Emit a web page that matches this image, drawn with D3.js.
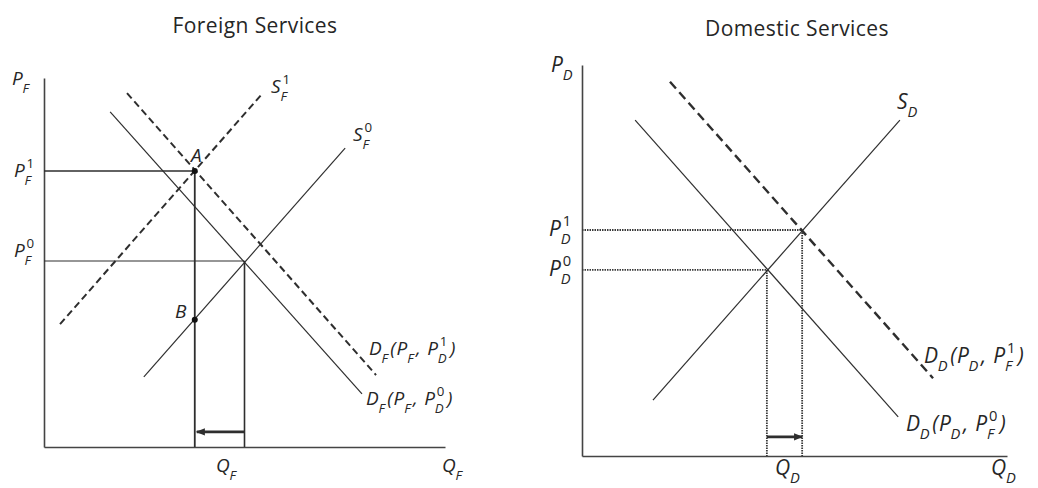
<!DOCTYPE html>
<html>
<head>
<meta charset="utf-8">
<script src="https://cdn.jsdelivr.net/npm/d3@7"></script>
<style>
body { margin: 0; background: #fff; }
text { font-family: "Open Sans", "Noto Sans", sans-serif; fill: #262626; }
</style>
</head>
<body>
<div id="chart"></div>
<script>
// panel titles
var panelTitles = ["Foreign Services", "Domestic Services"];

// foreign services panel (quantity, price) in abstract 0-10 units
var fSupply1 = [[0.4, 3.33], [5.44, 9.57]];   // dashed, shifted supply
var fSupply0 = [[2.49, 1.9], [7.51, 8.1]];
var fDemand0 = [[1.65, 9.08], [7.93, 1.44]];
var fDemand1 = [[2.07, 9.59], [8.28, 1.95]];  // dashed
var fPointA = [3.76, 7.48];
var fEq0 = [5.0, 5.04];
var fPointB = [3.76, 3.45];

// domestic services panel
var dSupply = [[1.67, 1.43], [7.48, 8.59]];
var dDemand0 = [[1.25, 8.59], [7.44, 1.0]];
var dDemand1 = [[2.07, 9.57], [8.26, 1.99]];  // dashed
var dEq0 = [4.35, 4.76];
var dEq1 = [5.18, 5.78];

var W = 1038, H = 488;
var svg = d3.select("#chart").append("svg")
    .attr("width", W)
    .attr("height", H);

var ink = "#2e2e2e";
var sp = "\u00a0";

svg.append("defs").append("marker")
    .attr("id", "head")
    .attr("viewBox", "0 0 10 10")
    .attr("refX", 9).attr("refY", 5)
    .attr("markerWidth", 9).attr("markerHeight", 9)
    .attr("markerUnits", "userSpaceOnUse")
    .attr("orient", "auto")
    .append("path")
    .attr("d", "M0,1 L10,5 L0,9 Z")
    .attr("fill", ink);

// draws a letter with stacked sub/superscripts
function mathLabel(g, x, y, parts, fs) {
    var cx = x;
    var ss = fs * 0.7;
    parts.forEach(function(p) {
        if (typeof p === "string") p = {b: p};
        var t = g.append("text")
            .attr("x", cx).attr("y", y)
            .attr("font-size", fs)
            .attr("font-style", "italic")
            .attr("letter-spacing", 0.8)
            .text(p.b);
        cx += t.node().getComputedTextLength();
        var w = 0;
        if (p.sub) {
            var s = g.append("text")
                .attr("x", cx - 1).attr("y", y + fs * 0.4)
                .attr("font-size", ss)
                .attr("font-style", "italic")
                .text(p.sub);
            w = Math.max(w, s.node().getComputedTextLength() - 1);
        }
        if (p.sup) {
            var s2 = g.append("text")
                .attr("x", cx + 1).attr("y", y - fs * 0.48)
                .attr("font-size", ss)
                .text(p.sup);
            w = Math.max(w, s2.node().getComputedTextLength() + 1);
        }
        cx += w + (p.sub || p.sup ? 2.5 : 0);
    });
}

var line = function(xs, ys) {
    return d3.line().x(function(d) { return xs(d[0]); }).y(function(d) { return ys(d[1]); });
};

function axes(g, x, y) {
    g.append("g")
        .attr("transform", "translate(0," + y(0) + ")")
        .call(d3.axisBottom(x).ticks(0).tickSizeOuter(0))
        .select(".domain").attr("stroke", "#444").attr("stroke-width", 1.6);
    g.append("g")
        .attr("transform", "translate(" + x(0) + ",0)")
        .call(d3.axisLeft(y).ticks(0).tickSizeOuter(0))
        .select(".domain").attr("stroke", "#444").attr("stroke-width", 1.6);
}

function title(g, x, y, s) {
    g.append("text")
        .attr("x", x).attr("y", y)
        .attr("text-anchor", "middle")
        .attr("font-size", 21)
        .attr("letter-spacing", 0.4)
        .attr("fill", "#333")
        .text(s);
}

// ---------- foreign services ----------
var fx = d3.scaleLinear().domain([0, 10]).range([44, 445]);
var fy = d3.scaleLinear().domain([0, 10]).range([447, 78]);
var fLine = line(fx, fy);
var left = svg.append("g");

title(left, 255, 33, panelTitles[0]);
axes(left, fx, fy);

// price and quantity guides
left.append("path").datum([[0, fPointA[1]], fPointA])
    .attr("d", fLine).attr("stroke", ink).attr("stroke-width", 1.6).attr("fill", "none");
left.append("path").datum([[0, fEq0[1]], fEq0])
    .attr("d", fLine).attr("stroke", ink).attr("stroke-width", 1.2).attr("fill", "none");
left.append("path").datum([fPointA, [fPointA[0], 0]])
    .attr("d", fLine).attr("stroke", ink).attr("stroke-width", 1.8).attr("fill", "none");
left.append("path").datum([fEq0, [fEq0[0], 0]])
    .attr("d", fLine).attr("stroke", ink).attr("stroke-width", 1.6).attr("fill", "none");

left.append("path").datum(fSupply0)
    .attr("d", fLine).attr("stroke", ink).attr("stroke-width", 1.2).attr("fill", "none");
left.append("path").datum(fDemand0)
    .attr("d", fLine).attr("stroke", ink).attr("stroke-width", 1.2).attr("fill", "none");
left.append("path").datum(fSupply1)
    .attr("d", fLine).attr("stroke", ink).attr("stroke-width", 2)
    .attr("stroke-dasharray", "7,4").attr("fill", "none");
left.append("path").datum(fDemand1)
    .attr("d", fLine).attr("stroke", ink).attr("stroke-width", 2)
    .attr("stroke-dasharray", "7,4").attr("fill", "none");

left.selectAll("circle.pt").data([fPointA, fPointB]).enter().append("circle")
    .attr("cx", function(d) { return fx(d[0]); })
    .attr("cy", function(d) { return fy(d[1]); })
    .attr("r", 3).attr("fill", "#111");

// quantity change arrow
left.append("line")
    .attr("x1", fx(fEq0[0])).attr("y1", fy(0.41))
    .attr("x2", fx(fPointA[0]) + 2).attr("y2", fy(0.41))
    .attr("stroke", ink).attr("stroke-width", 2.6)
    .attr("marker-end", "url(#head)");

var fs = 19;
mathLabel(left, 12, 85, [{b: "P", sub: "F"}], fs);
mathLabel(left, 14, 177, [{b: "P", sub: "F", sup: "1"}], fs);
mathLabel(left, 14, 257, [{b: "P", sub: "F", sup: "0"}], fs);
mathLabel(left, 191, 162, ["A"], fs);
mathLabel(left, 175, 318, ["B"], fs);
mathLabel(left, 271, 93, [{b: "S", sub: "F", sup: "1"}], fs);
mathLabel(left, 353, 141, [{b: "S", sub: "F", sup: "0"}], fs);
mathLabel(left, 369, 355, [{b: "D", sub: "F"}, "(", {b: "P", sub: "F"}, "," + sp, {b: "P", sub: "D", sup: "1"}, ")"], fs);
mathLabel(left, 366, 405, [{b: "D", sub: "F"}, "(", {b: "P", sub: "F"}, "," + sp, {b: "P", sub: "D", sup: "0"}, ")"], fs);
mathLabel(left, 216, 472, [{b: "Q", sub: "F"}], fs);
mathLabel(left, 442, 472, [{b: "Q", sub: "F"}], fs);

// ---------- domestic services ----------
var dx = d3.scaleLinear().domain([0, 10]).range([582, 1007]);
var dy = d3.scaleLinear().domain([0, 10]).range([456, 65]);
var dLine = line(dx, dy);
var right = svg.append("g");

title(right, 797, 36, panelTitles[1]);
axes(right, dx, dy);

// dotted guides
[[[0, dEq1[1]], dEq1], [[0, dEq0[1]], dEq0], [dEq1, [dEq1[0], 0]], [dEq0, [dEq0[0], 0]]].forEach(function(seg) {
    right.append("path").datum(seg)
        .attr("d", dLine).attr("stroke", "#3a3a3a").attr("stroke-width", 1.8)
        .attr("stroke-dasharray", "1.5,1").attr("fill", "none");
});

right.append("path").datum(dSupply)
    .attr("d", dLine).attr("stroke", ink).attr("stroke-width", 1.2).attr("fill", "none");
right.append("path").datum(dDemand0)
    .attr("d", dLine).attr("stroke", ink).attr("stroke-width", 1.2).attr("fill", "none");
right.append("path").datum(dDemand1)
    .attr("d", dLine).attr("stroke", ink).attr("stroke-width", 2.4)
    .attr("stroke-dasharray", "9,5").attr("fill", "none");

right.append("line")
    .attr("x1", dx(dEq0[0])).attr("y1", dy(0.49))
    .attr("x2", dx(dEq1[0])).attr("y2", dy(0.49))
    .attr("stroke", ink).attr("stroke-width", 2.6)
    .attr("marker-end", "url(#head)");

var fs2 = 21;
mathLabel(right, 551, 72, [{b: "P", sub: "D"}], fs2);
mathLabel(right, 549, 236, [{b: "P", sub: "D", sup: "1"}], fs2);
mathLabel(right, 549, 276, [{b: "P", sub: "D", sup: "0"}], fs2);
mathLabel(right, 897, 109, [{b: "S", sub: "D"}], fs2);
mathLabel(right, 924, 363, [{b: "D", sub: "D"}, "(", {b: "P", sub: "D"}, "," + sp, {b: "P", sub: "F", sup: "1"}, ")"], fs2);
mathLabel(right, 906, 431, [{b: "D", sub: "D"}, "(", {b: "P", sub: "D"}, "," + sp, {b: "P", sub: "F", sup: "0"}, ")"], fs2);
mathLabel(right, 775, 475, [{b: "Q", sub: "D"}], fs2);
mathLabel(right, 991, 475, [{b: "Q", sub: "D"}], fs2);
</script>
</body>
</html>
